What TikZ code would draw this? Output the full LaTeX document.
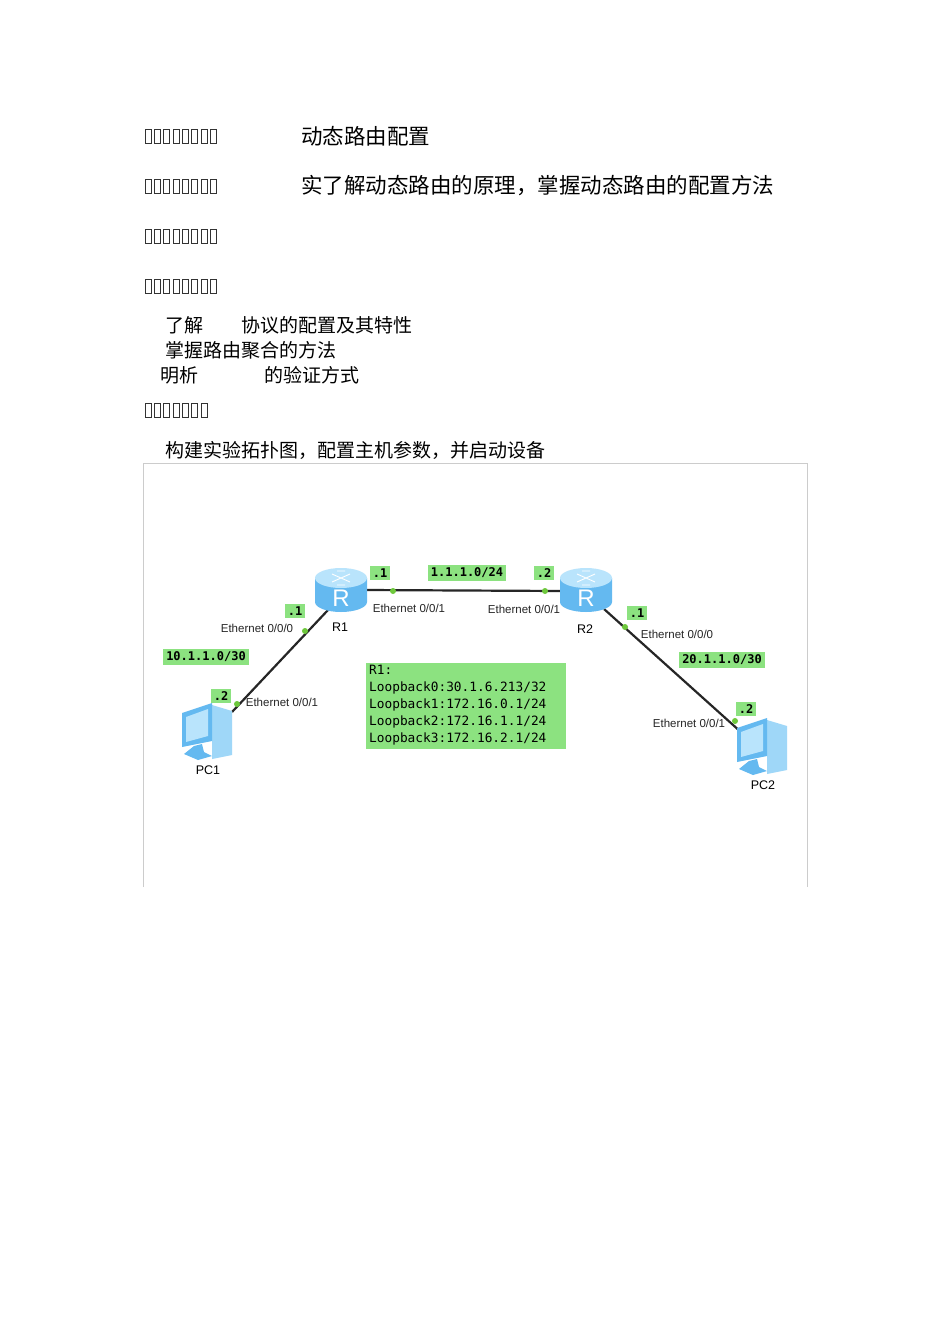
\documentclass[tikz,border=0pt]{standalone}
\usepackage{fontspec}
\setsansfont{Liberation Sans}
\setmonofont{DejaVu Sans Mono}
\newfontfamily\cjk{Noto Sans CJK SC}
\begin{document}
\begin{tikzpicture}[x=1pt,y=-1pt,
  cn/.style={font=\cjk\fontsize{21.5}{21.5}\selectfont,anchor=west,inner sep=0},
  cs/.style={font=\cjk\fontsize{19}{19}\selectfont,anchor=west,inner sep=0},
  glab/.style={fill=lab,font=\ttfamily\bfseries\fontsize{12}{12}\selectfont,inner sep=3pt},
  eth/.style={font=\sffamily\fontsize{11.5}{11.5}\selectfont,inner sep=0,text=black!85},
  dev/.style={font=\sffamily\fontsize{12.5}{12.5}\selectfont,inner sep=0},
  link/.style={line width=2.2pt,black!85},
  pdot/.style={circle,fill=dot,inner sep=0,minimum size=6pt}]
\definecolor{lab}{RGB}{140,226,128}
\definecolor{dot}{RGB}{110,200,60}
\definecolor{rb}{RGB}{100,185,240}
\definecolor{rl}{RGB}{185,228,252}
\useasboundingbox (0,0) rectangle (950,1344);
\fill[white] (0,0) rectangle (950,1344);
% tofu boxes
\foreach \y/\n in {136/8,186/8,236/8,286/8,410/7}{
  \foreach \i in {1,...,\n}{
    \draw[black!80,line width=0.6pt] ({145+(\i-1)*9.3},{\y-7}) rectangle ++(6,14);}}
\node[cn] (t1) at (301,136) {动态路由配置};
\node[cn] (t2) at (301,186) {实了解动态路由的原理，掌握动态路由的配置方法};
\node[cs] (l1a) at (165,325) {了解};
\node[cs] (l1b) at (241,325) {协议的配置及其特性};
\node[cs] (l2) at (165,350) {掌握路由聚合的方法};
\node[cs] (l3a) at (160,375) {明析};
\node[cs] (l3b) at (264,375) {的验证方式};
\node[cs] (l4) at (165,450) {构建实验拓扑图，配置主机参数，并启动设备};
% frame
\draw[black!20,line width=0.8pt] (143,887) -- (143,463) -- (807,463) -- (807,887);
\coordinate (r1e) at (366,590); \coordinate (r2w) at (561,591);
\coordinate (r1s) at (328,610); \coordinate (pc1) at (232,712);
\coordinate (r2s) at (604,609); \coordinate (pc2) at (742,733);
\draw[link] (r1e) -- (r2w);
\draw[link] (r1s) -- (pc1);
\draw[link] (r2s) -- (pc2);
% routers
\foreach \n/\x in {R1/341,R2/586}{
  \begin{scope}[shift={(\x,590)}]
  \fill[rb] (-26,-12) -- (-26,12) arc[start angle=180,end angle=0,x radius=26,y radius=10] -- (26,-12) -- cycle;
  \fill[rl] (0,-12) ellipse[x radius=26,y radius=10];
  \draw[white,line width=0.9pt] (-9,-16) -- (9,-8) (9,-16) -- (-9,-8) (-4,-19) -- (4,-19) (-4,-5) -- (4,-5);
  \node[text=white,font=\sffamily\fontsize{24}{24}\selectfont] (\n) at (0,8) {R};
  \end{scope}}
% PCs
\foreach \n/\x/\y in {P1/208/735,P2/763/750}{
  \begin{scope}[shift={(\x,\y)}]
  \fill[rl!70!rb] (4,-30) -- (24,-24) -- (24,20) -- (4,24) -- cycle;
  \fill[rb] (-26,-22) -- (4,-32) -- (4,6) -- (-26,12) -- cycle;
  \fill[rl] (-22,-18) -- (0,-26) -- (0,1) -- (-22,7) -- cycle;
  \fill[rb] (-14,11) -- (-6,9) -- (-4,17) -- (4,21) -- (-10,25) -- (-24,19) -- cycle;
  \coordinate (\n) at (0,0);
  \end{scope}}
\node[pdot] (d1) at (393,591) {}; \node[pdot] (d2) at (545,591) {};
\node[pdot] (d3) at (305,631) {}; \node[pdot] (d4) at (237,704) {};
\node[pdot] (d5) at (625,627) {}; \node[pdot] (d6) at (735,721) {};
% labels
\node[glab] (a1) at (380,573) {.1};
\node[glab] (a2) at (467,573) {1.1.1.0/24};
\node[glab] (a3) at (544,573) {.2};
\node[glab] (a4) at (295,611) {.1};
\node[glab] (a5) at (206,657) {10.1.1.0/30};
\node[glab] (a6) at (221,696) {.2};
\node[glab] (a7) at (637,613) {.1};
\node[glab] (a8) at (722,660) {20.1.1.0/30};
\node[glab] (a9) at (746,709) {.2};
\node[eth] (e1) at (409,608) {Ethernet 0/0/1};
\node[eth] (e2) at (257,628) {Ethernet 0/0/0};
\node[eth] (e3) at (282,702) {Ethernet 0/0/1};
\node[eth] (e4) at (524,609) {Ethernet 0/0/1};
\node[eth] (e5) at (677,634) {Ethernet 0/0/0};
\node[eth] (e6) at (689,723) {Ethernet 0/0/1};
\node[dev] (n1) at (340,627) {R1};
\node[dev] (n2) at (585,629) {R2};
\node[dev] (n3) at (208,770) {PC1};
\node[dev] (n4) at (763,785) {PC2};
\node[fill=lab,anchor=north west,minimum width=200pt,minimum height=86pt,inner sep=0] (box) at (366,663) {};
\node[anchor=north west,align=left,inner sep=0,font=\ttfamily\fontsize{12.8}{17}\selectfont] (info) at (369,665)
{R1:\\Loopback0:30.1.6.213/32\\Loopback1:172.16.0.1/24\\Loopback2:172.16.1.1/24\\Loopback3:172.16.2.1/24};
\end{tikzpicture}
\end{document}
